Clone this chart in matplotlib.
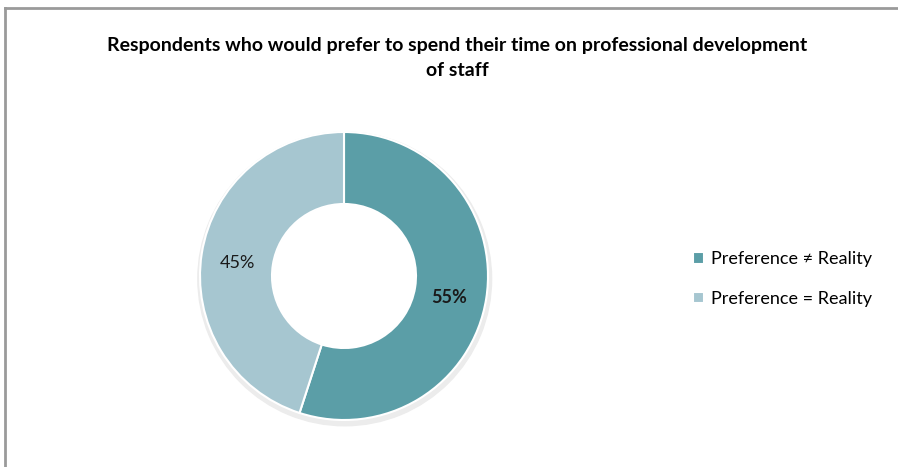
import matplotlib.pyplot as plt
from matplotlib.lines import Line2D
from matplotlib.patches import Wedge

# chart data
labels = ['Preference \u2260 Reality', 'Preference = Reality']
shares = [55, 45]
colors = ['#5b9ea7', '#a6c6d0']

W, H = 898, 467
plt.rcParams['font.family'] = ['Lato', 'DejaVu Sans']

fig = plt.figure(figsize=(W / 100, H / 100), dpi=100)

# frame lines (left and top, like the screenshot border)
fig.add_artist(Line2D([5 / W, 5 / W], [0, 1 - 8 / H], color='#9a9a9a', lw=2))
fig.add_artist(Line2D([5 / W, 1], [1 - 8 / H, 1 - 8 / H], color='#9a9a9a', lw=2))

# donut axes: centre (344, 276) px, outer radius 144 px
cx, cy, r = 344, 276, 144
half = 160
ax = fig.add_axes([(cx - half) / W, (H - cy - half) / H, 2 * half / W, 2 * half / H])
ax.axis('off')

# faint shadow ring under the donut
ax.add_patch(Wedge((0.005, -0.02), 1.02, 0, 360, width=0.06, color='#ececec', zorder=0))

wedges, _ = ax.pie(shares, colors=colors, startangle=90, counterclock=False,
                   radius=1, wedgeprops=dict(width=0.5, edgecolor='white', linewidth=1.5))
lim = half / r
ax.set_xlim(-lim, lim)
ax.set_ylim(-lim, lim)

ax.text(0.73, -0.15, '55%', ha='center', va='center', fontsize=13,
        fontweight='bold', color='#1a1a1a')
ax.text(-0.74, 0.09, '45%', ha='center', va='center', fontsize=13, color='#1a1a1a')

fig.text(457 / W, 1 - 45 / H,
         'Respondents who would prefer to spend their time on professional development',
         ha='center', va='center', fontsize=14, fontweight='bold')
fig.text(457 / W, 1 - 70 / H, 'of staff', ha='center', va='center',
         fontsize=14, fontweight='bold')

fig.legend(wedges, labels, loc='center left', bbox_to_anchor=(677 / W, 1 - 279 / H),
           frameon=False, fontsize=13, handlelength=0.6, handleheight=0.6,
           handletextpad=0.4, labelspacing=1.3)

fig.savefig('out.png', dpi=100)
